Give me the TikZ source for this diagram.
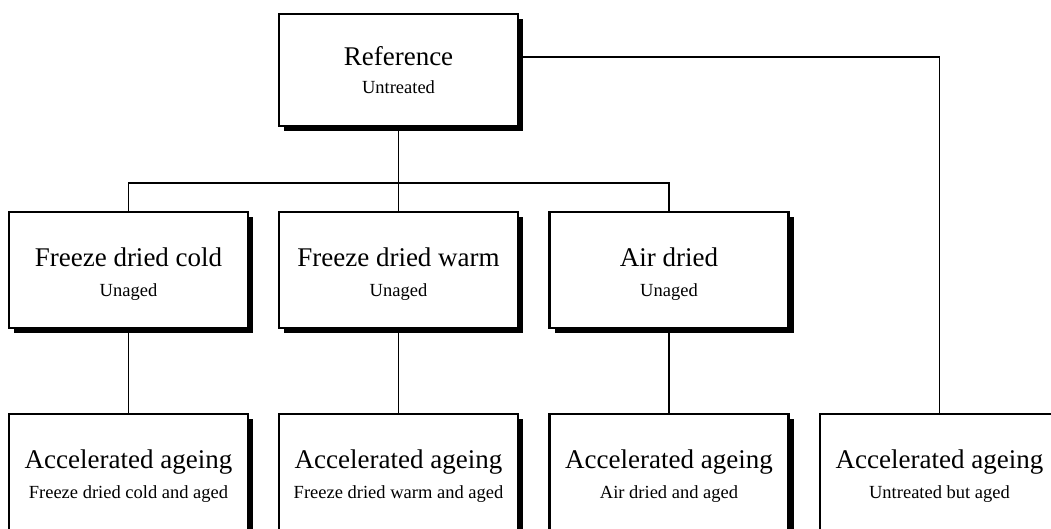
\documentclass[tikz,border=0pt]{standalone}
\usepackage{fontspec}
\setmainfont{Liberation Serif}
\usetikzlibrary{shadows}
\begin{document}
\begin{tikzpicture}[x=1pt,y=-1pt,
  box/.style={draw,fill=white,line width=2.2pt,minimum width=239pt,minimum height=116pt,inner sep=0pt,
    drop shadow={shadow xshift=5pt,shadow yshift=-5pt,fill=black,opacity=1}},
  title/.style={font=\fontsize{27}{30}\selectfont,inner sep=0pt,anchor=base},
  sub/.style={font=\fontsize{18.5}{21}\selectfont,inner sep=0pt,anchor=base},
  conn/.style={line width=1.5pt}]
\clip (0,0) rectangle (1051,528);
\fill[white] (0,0) rectangle (1051,528);
% connectors (behind)
\coordinate (bus) at (398.5,183);
\coordinate (refpt) at (398.5,70);
% boxes
\node[box,minimum height=112pt] (ref) at (398.5,70) {};
\node[box] (m1) at (128.5,270) {};
\node[box] (m2) at (398.5,270) {};
\node[box] (m3) at (669,270) {};
\node[box] (b1) at (128.5,472) {};
\node[box] (b2) at (398.5,472) {};
\node[box] (b3) at (669,472) {};
\node[box] (b4) at (939.5,472) {};
% texts
\node[title] (tref) at ([yshift=5pt]ref.center) {Reference};
\node[sub] (sref) at ([yshift=-23pt]ref.center) {Untreated};
\node[title] (tm1) at ([yshift=4pt]m1.center) {Freeze dried cold};
\node[sub] (sm1) at ([yshift=-26pt]m1.center) {Unaged};
\node[title] (tm2) at ([yshift=4pt]m2.center) {Freeze dried warm};
\node[sub] (sm2) at ([yshift=-26pt]m2.center) {Unaged};
\node[title] (tm3) at ([yshift=4pt]m3.center) {Air dried};
\node[sub] (sm3) at ([yshift=-26pt]m3.center) {Unaged};
\node[title] (tb1) at ([yshift=4pt]b1.center) {Accelerated ageing};
\node[sub] (sb1) at ([yshift=-26pt]b1.center) {Freeze dried cold and aged};
\node[title] (tb2) at ([yshift=4pt]b2.center) {Accelerated ageing};
\node[sub] (sb2) at ([yshift=-26pt]b2.center) {Freeze dried warm and aged};
\node[title] (tb3) at ([yshift=4pt]b3.center) {Accelerated ageing};
\node[sub] (sb3) at ([yshift=-26pt]b3.center) {Air dried and aged};
\node[title] (tb4) at ([yshift=4pt]b4.center) {Accelerated ageing};
\node[sub] (sb4) at ([yshift=-26pt]b4.center) {Untreated but aged};
% connectors
\draw[conn] (ref.south) -- (bus);
\draw[conn] (m1.north) |- (bus);
\draw[conn] (m3.north) |- (bus);
\draw[conn] (m2.north) -- (bus);
\draw[conn] ([yshift=13pt]ref.east) -| (b4.north);
\draw[conn] (m1.south) -- (b1.north);
\draw[conn] (m2.south) -- (b2.north);
\draw[conn] (m3.south) -- (b3.north);
\end{tikzpicture}
\end{document}
